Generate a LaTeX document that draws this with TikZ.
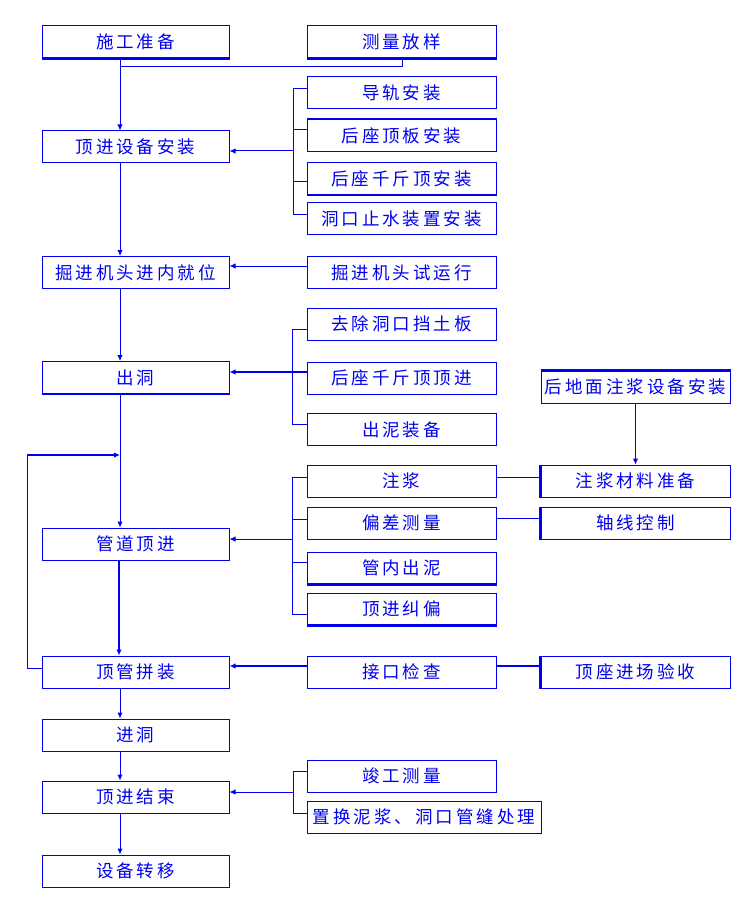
\documentclass[tikz,border=0pt]{standalone}
\usepackage{fontspec}
\newfontfamily\cjk{Noto Sans CJK SC}[LetterSpace=17]
\usetikzlibrary{arrows.meta}
\definecolor{fc}{RGB}{0,0,240}
\begin{document}
\begin{tikzpicture}[x=1pt,y=-1pt,
  box/.style={draw=fc,line width=1pt,rectangle,inner sep=0pt,minimum height=32pt,text=fc,font=\cjk\fontsize{17.5}{20}\selectfont},
  lbox/.style={box,minimum width=187pt},
  rbox/.style={box,minimum width=189pt},
  ln/.style={draw=fc,line width=1pt},
  tk/.style={draw=fc,line width=2.2pt},
  arr/.style={-{Latex[length=6pt,width=5.5pt]}}]
\useasboundingbox (0,0) rectangle (750,909);
% left column
\node[lbox] (a1) at (135.5,42) {施工准备};
\node[lbox] (a2) at (135.5,147) {顶进设备安装};
\node[lbox] (a3) at (135.5,272.5) {掘进机头进内就位};
\node[lbox] (a4) at (135.5,377.5) {出洞};
\node[lbox] (a5) at (135.5,544) {管道顶进};
\node[lbox] (a6) at (135.5,672) {顶管拼装};
\node[lbox] (a7) at (135.5,735) {进洞};
\node[lbox] (a8) at (135.5,797) {顶进结束};
\node[lbox] (a9) at (135.5,871) {设备转移};
% middle column
\node[rbox] (b0) at (401.5,42) {测量放样};
\node[rbox] (b1) at (401.5,93) {导轨安装};
\node[rbox] (b2) at (401.5,135.5) {后座顶板安装};
\node[rbox] (b3) at (401.5,178.5) {后座千斤顶安装};
\node[rbox] (b4) at (401.5,218.5) {洞口止水装置安装};
\node[rbox] (b5) at (401.5,272.5) {掘进机头试运行};
\node[rbox] (b6) at (401.5,324) {去除洞口挡土板};
\node[rbox] (b7) at (401.5,378) {后座千斤顶顶进};
\node[rbox] (b8) at (401.5,429.5) {出泥装备};
\node[rbox] (b9) at (401.5,481) {注浆};
\node[rbox] (b10) at (401.5,523) {偏差测量};
\node[rbox] (b11) at (401.5,568) {管内出泥};
\node[rbox] (b12) at (401.5,609) {顶进纠偏};
\node[rbox] (b13) at (401.5,672) {接口检查};
\node[rbox] (b14) at (401.5,776) {竣工测量};
\node[box,minimum width=234pt] (b15) at (424,817) {置换泥浆、洞口管缝处理};
% right column
\node[rbox] (c1) at (635.5,387) {后地面注浆设备安装};
\node[rbox] (c2) at (635.5,481) {注浆材料准备};
\node[rbox] (c3) at (635.5,523) {轴线控制};
\node[rbox] (c4) at (635.5,672) {顶座进场验收};
% thick edges
\draw[tk] (a1.south west) -- (a1.south east);
\draw[tk] (b0.south west) -- (b0.south east);
\draw[tk] (b2.north west) -- (b2.north east);
\draw[tk] (b3.south west) -- (b3.south east);
\draw[tk] (a4.south west) -- (a4.south east);
\draw[tk] (b11.south west) -- (b11.south east);
\draw[tk] (b12.south west) -- (b12.south east);
\draw[tk] (c1.north west) -- (c1.north east);
\draw[tk] (c2.north west) -- (c2.south west);
\draw[tk] (c3.north west) -- (c3.south west);
\draw[tk] (c4.north west) -- (c4.south west);
% main column connectors
\draw[ln,arr] ([xshift=-15.5pt]a1.south) -- ([xshift=-15.5pt]a2.north);
\coordinate (j0) at (120,67);
\draw[ln] ([xshift=0.5pt]b0.south) |- (j0);
\draw[ln,arr] ([xshift=-15.5pt]a2.south) -- ([xshift=-15.5pt]a3.north);
\draw[ln,arr] ([xshift=-15.5pt]a3.south) -- ([xshift=-15.5pt]a4.north);
\draw[ln,arr] ([xshift=-15.5pt]a4.south) -- ([xshift=-15.5pt]a5.north);
\draw[tk,arr] ([xshift=-16.5pt]a5.south) -- ([xshift=-16.5pt]a6.north);
\draw[ln,arr] ([xshift=-15.5pt]a6.south) -- ([xshift=-15.5pt]a7.north);
\draw[ln,arr] ([xshift=-15.5pt]a7.south) -- ([xshift=-15.5pt]a8.north);
\draw[ln,arr] ([xshift=-15.5pt]a8.south) -- ([xshift=-15.5pt]a9.north);
% bracket 1
\coordinate (k1t) at (293,89);
\coordinate (k1m) at (293,151);
\coordinate (k1b) at (293,215);
\draw[ln] (b1.west |- k1t) -- (k1t) -- (k1b) -- (b4.west |- k1b);
\draw[ln] (k1t |- 0,130) -- (b2.west |- 0,130);
\draw[ln] (k1t |- 0,182) -- (b3.west |- 0,182);
\draw[ln,arr] (k1m) -- (a2.east |- k1m);
% 掘进机头试运行
\draw[ln,arr] (b5.west |- 0,266) -- (a3.east |- 0,266);
% bracket 2
\coordinate (k2t) at (292,329);
\coordinate (k2b) at (292,424);
\draw[ln] (b6.west |- k2t) -- (k2t) -- (k2b) -- (b8.west |- k2b);
\draw[tk,arr] (b7.west |- 0,372) -- (a4.east |- 0,372);
% feedback loop
\coordinate (f1) at (27,668);
\coordinate (f2) at (27,455);
\coordinate (f3) at (120,455);
\draw[ln] (a6.west |- f1) -- (f1) -- (f2);
\draw[tk,arr] (f2) -- (f3);
% bracket 3
\coordinate (k3t) at (292,477);
\coordinate (k3m) at (292,539);
\coordinate (k3b) at (292,614);
\draw[ln] (b9.west |- k3t) -- (k3t) -- (k3b) -- (b12.west |- k3b);
\draw[ln] (k3t |- 0,519) -- (b10.west |- 0,519);
\draw[ln] (k3t |- 0,562) -- (b11.west |- 0,562);
\draw[ln,arr] (k3m) -- (a5.east |- k3m);
\draw[ln] (b9.east |- 0,477) -- (c2.west |- 0,477);
\draw[ln] (b10.east |- 0,518) -- (c3.west |- 0,518);
\draw[ln,arr] (c1.south) -- (c2.north);
% 接口检查
\draw[tk,arr] (b13.west |- 0,666) -- (a6.east |- 0,666);
\draw[tk] (b13.east |- 0,666) -- (c4.west |- 0,666);
% bracket 4
\coordinate (k4t) at (293,771);
\coordinate (k4m) at (293,792);
\coordinate (k4b) at (293,813);
\draw[ln] (b14.west |- k4t) -- (k4t) -- (k4b) -- (b15.west |- k4b);
\draw[ln,arr] (k4m) -- (a8.east |- k4m);
\end{tikzpicture}
\end{document}
